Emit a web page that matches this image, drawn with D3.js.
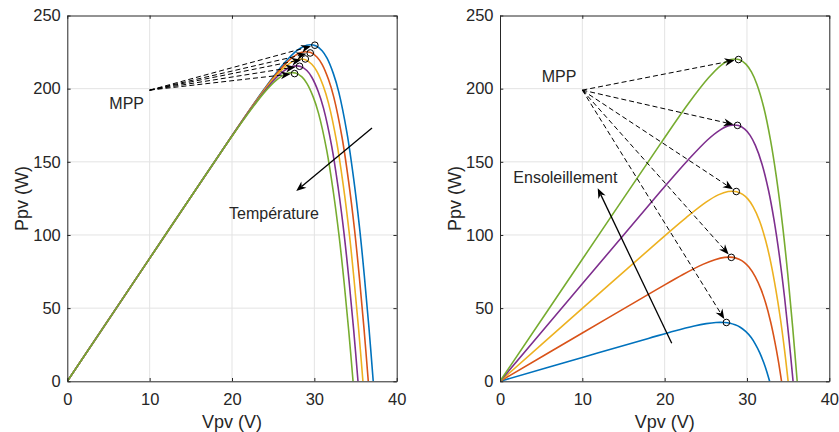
<!DOCTYPE html>
<html><head><meta charset="utf-8">
<script src="https://cdn.jsdelivr.net/npm/d3@7"></script>
<style>
body{margin:0;background:#fff}
svg{display:block}
text{font-family:"Liberation Sans",Arial,Helvetica,sans-serif;fill:#262626}
</style>
</head><body>
<svg id="chart" width="839" height="432"></svg>
<script>
// ---------- data ----------
const xTicks = [0, 10, 20, 30, 40];
const yTicks = [0, 50, 100, 150, 200, 250];
const seriesColors = ["#0072BD", "#D95319", "#EDB120", "#7E2F8E", "#77AC30"];

// Left panel: temperature variation (Vpv [V], Ppv [W])
const tempCurve1 = [[0,0],[10,84.0],[20.43,171.4],[23.94,199.9],[26.36,217.5],[27.91,226.1],[29.07,229.7],[30.17,229.3],[30.94,225.9],[31.54,220.8],[32.32,210.1],[32.96,197.8],[33.96,169.8],[34.76,139.0],[35.46,106.4],[36.07,72.1],[36.63,36.6],[37.15,0]];
const tempCurve2 = [[0,0],[10,84.0],[19.83,166.4],[23.34,194.9],[25.76,212.5],[27.31,221.2],[28.47,224.9],[29.57,224.7],[30.34,221.5],[30.94,216.6],[31.72,206.2],[32.36,194.2],[33.36,166.8],[34.16,136.6],[34.86,104.6],[35.47,70.9],[36.03,36.0],[36.55,0]];
const tempCurve3 = [[0,0],[10,84.0],[19.18,160.9],[22.69,189.5],[25.11,207.2],[26.66,215.9],[27.82,219.8],[28.92,219.8],[29.69,216.7],[30.29,212.0],[31.07,202.0],[31.71,190.3],[32.71,163.6],[33.51,134.0],[34.21,102.6],[34.82,69.6],[35.38,35.4],[35.9,0]];
const tempCurve4 = [[0,0],[10,84.0],[18.58,155.9],[22.09,184.5],[24.51,202.2],[26.06,211.1],[27.22,215.0],[28.32,215.2],[29.09,212.4],[29.69,207.8],[30.47,198.1],[31.11,186.7],[32.11,160.6],[32.91,131.6],[33.61,100.8],[34.22,68.4],[34.78,34.8],[35.3,0]];
const tempCurve5 = [[0,0],[10,84.0],[17.98,150.9],[21.49,179.4],[23.91,197.3],[25.46,206.2],[26.62,210.3],[27.72,210.7],[28.49,208.0],[29.09,203.6],[29.87,194.2],[30.51,183.1],[31.51,157.6],[32.31,129.2],[33.01,99.0],[33.62,67.2],[34.18,34.2],[34.7,0]];
const tempMPP = [[30.06,229.7],[29.5,224.4],[28.9,220.3],[28.2,215.3],[27.6,210.3]];

// Right panel: irradiance variation
const irrCurve1 = [[0,0],[10,16.3],[18.02,29.3],[21.19,34.4],[23.59,37.8],[25.05,39.4],[26.23,40.2],[27.25,40.2],[27.95,39.7],[28.55,38.6],[29.13,37.1],[29.84,34.1],[30.51,29.9],[31.03,25.3],[31.57,19.3],[32.02,13.0],[32.41,6.6],[32.75,0]];
const irrCurve2 = [[0,0],[10,33.0],[19.06,62.8],[22.23,73.0],[24.64,79.9],[26.10,83.1],[27.30,84.7],[28.33,84.7],[29.04,83.4],[29.66,81.3],[30.26,77.9],[31.0,71.6],[31.71,62.8],[32.28,53.3],[32.87,40.7],[33.37,27.5],[33.81,14.0],[34.2,0]];
const irrCurve3 = [[0,0],[10,49.8],[19.45,96.7],[22.62,111.9],[25.03,122.4],[26.51,127.4],[27.71,129.7],[28.76,129.6],[29.48,127.7],[30.12,124.5],[30.74,119.4],[31.51,109.9],[32.26,96.4],[32.87,81.8],[33.51,62.5],[34.07,42.4],[34.56,21.5],[35.0,0]];
const irrCurve4 = [[0,0],[10,66.6],[19.64,130.7],[22.82,151.1],[25.23,165.1],[26.71,171.7],[27.93,174.9],[28.98,174.8],[29.73,172.3],[30.38,168.1],[31.02,161.2],[31.83,148.4],[32.62,130.4],[33.27,110.8],[33.96,84.9],[34.56,57.6],[35.10,29.2],[35.6,0]];
const irrCurve5 = [[0,0],[10,83.4],[19.73,164.3],[22.91,190.0],[25.33,207.4],[26.81,215.8],[28.04,219.9],[29.11,219.8],[29.87,216.8],[30.54,211.4],[31.2,203.0],[32.04,187.1],[32.87,164.5],[33.56,140.0],[34.31,107.3],[34.96,72.9],[35.55,37.0],[36.1,0]];
const irrMPP = [[27.5,40.2],[28.1,84.7],[28.7,129.7],[28.85,174.9],[28.97,219.9]];

const xLabel = "Vpv (V)";
const yLabel = "Ppv (W)";

// ---------- drawing ----------
const svg = d3.select("#chart");
const INK = "#262626";
const GRID = "#e3e3e3";
const yTop = 15.5, yBot = 381.3;

const panels = [
  {x0: 67.3, x1: 396.7, curves: [tempCurve1,tempCurve2,tempCurve3,tempCurve4,tempCurve5], mpp: tempMPP, id: "L"},
  {x0: 500.0, x1: 829.3, curves: [irrCurve1,irrCurve2,irrCurve3,irrCurve4,irrCurve5], mpp: irrMPP, id: "R"}
];

function drawArrow(g, x1, y1, x2, y2, dashed, shorten) {
  const dx = x2 - x1, dy = y2 - y1;
  const len = Math.hypot(dx, dy);
  const ux = dx / len, uy = dy / len;
  const tx = x2 - ux * shorten, ty = y2 - uy * shorten;
  const L = 10, W = 4, notch = 7;
  const bx = tx - ux * L, by = ty - uy * L;
  const nx = tx - ux * notch, ny = ty - uy * notch;
  const px = -uy, py = ux;
  g.append("line").attr("x1", x1).attr("y1", y1).attr("x2", nx).attr("y2", ny)
    .attr("stroke", "#000").attr("stroke-width", dashed ? 1 : 1.3)
    .attr("stroke-dasharray", dashed ? "5,3" : null);
  g.append("path")
    .attr("d", `M${tx},${ty}L${bx + px * W},${by + py * W}L${nx},${ny}L${bx - px * W},${by - py * W}Z`)
    .attr("fill", "#000");
}

panels.forEach(p => {
  const x = d3.scaleLinear().domain([0, 40]).range([p.x0, p.x1]);
  const y = d3.scaleLinear().domain([0, 250]).range([yBot, yTop]);
  p.x = x; p.y = y;
  const g = svg.append("g");

  // grid
  g.append("g").selectAll("line").data(xTicks.slice(1, -1)).join("line")
    .attr("x1", d => x(d)).attr("x2", d => x(d)).attr("y1", yTop).attr("y2", yBot)
    .attr("stroke", GRID).attr("stroke-width", 1);
  g.append("g").selectAll("line").data(yTicks.slice(1, -1)).join("line")
    .attr("y1", d => y(d)).attr("y2", d => y(d)).attr("x1", p.x0).attr("x2", p.x1)
    .attr("stroke", GRID).attr("stroke-width", 1);

  // curves
  const clipId = "clip" + p.id;
  svg.append("clipPath").attr("id", clipId).append("rect")
    .attr("x", p.x0).attr("y", yTop).attr("width", p.x1 - p.x0).attr("height", yBot - yTop);
  const line = d3.line().x(d => x(d[0])).y(d => y(d[1])).curve(d3.curveCatmullRom.alpha(0.5));
  g.append("g").attr("clip-path", `url(#${clipId})`).selectAll("path").data(p.curves).join("path")
    .attr("d", line).attr("fill", "none")
    .attr("stroke", (d, i) => seriesColors[i]).attr("stroke-width", 1.6)
    .attr("stroke-linejoin", "round");

  // axes
  const fmt = d3.format("d");
  const ax = g.append("g").attr("transform", `translate(0,${yBot})`)
    .call(d3.axisBottom(x).tickValues(xTicks).tickFormat(fmt).tickSizeInner(-3.3).tickSizeOuter(0).tickPadding(12));
  const ay = g.append("g").attr("transform", `translate(${p.x0},0)`)
    .call(d3.axisLeft(y).tickValues(yTicks).tickFormat(fmt).tickSizeInner(-3.3).tickSizeOuter(0).tickPadding(6.5));
  const axT = g.append("g").attr("transform", `translate(0,${yTop})`)
    .call(d3.axisTop(x).tickValues(xTicks).tickFormat("").tickSizeInner(-3.3).tickSizeOuter(0));
  const ayR = g.append("g").attr("transform", `translate(${p.x1},0)`)
    .call(d3.axisRight(y).tickValues(yTicks).tickFormat("").tickSizeInner(-3.3).tickSizeOuter(0));
  [ax, ay, axT, ayR].forEach(a => {
    a.select(".domain").attr("stroke", INK).attr("stroke-width", 1);
    a.selectAll(".tick line").attr("stroke", INK).attr("stroke-width", 1);
    a.selectAll(".tick text").attr("fill", INK).style("font-size", "16.5px")
      .style("font-family", '"Liberation Sans", Arial, Helvetica, sans-serif');
  });

  // axis labels
  g.append("text").attr("x", (p.x0 + p.x1) / 2).attr("y", 428).attr("text-anchor", "middle")
    .style("font-size", "18px").text(xLabel);
  g.append("text").attr("transform", `translate(${p.x0 - 39},${(yTop + yBot) / 2}) rotate(-90)`)
    .attr("text-anchor", "middle").style("font-size", "18px").text(yLabel);

  p.g = g;
});

// ---------- annotations ----------
const ann = svg.append("g");
{
  const p = panels[0], x = p.x, y = p.y;
  ann.append("text").attr("x", x(5.1)).attr("y", y(190.2)).attr("dy", "0.35em")
    .style("font-size", "16px").text("MPP");
  tempMPP.forEach(d => drawArrow(ann, x(10), y(199), x(d[0]), y(d[1]), true, 4));
  ann.selectAll(null).data(tempMPP).join("circle")
    .attr("cx", d => x(d[0])).attr("cy", d => y(d[1])).attr("r", 3.3)
    .attr("fill", "none").attr("stroke", "#000").attr("stroke-width", 1);
  drawArrow(ann, x(37.0), y(173.1), x(27.8), y(130.1), false, 0);
  ann.append("text").attr("x", x(25.1)).attr("y", y(115)).attr("dy", "0.35em").attr("text-anchor", "middle")
    .style("font-size", "16px").text("Température");
}
{
  const p = panels[1], x = p.x, y = p.y;
  ann.append("text").attr("x", x(5.07)).attr("y", y(208.6)).attr("dy", "0.35em")
    .style("font-size", "16px").text("MPP");
  irrMPP.forEach(d => drawArrow(ann, x(10), y(199), x(d[0]), y(d[1]), true, 4));
  ann.selectAll(null).data(irrMPP).join("circle")
    .attr("cx", d => x(d[0])).attr("cy", d => y(d[1])).attr("r", 3.3)
    .attr("fill", "none").attr("stroke", "#000").attr("stroke-width", 1);
  drawArrow(ann, x(20.86), y(26.0), x(11.87), y(131.9), false, 0);
  ann.append("text").attr("x", x(1.62)).attr("y", y(139.6)).attr("dy", "0.35em")
    .style("font-size", "16px").text("Ensoleillement");
}
</script>
</body></html>
